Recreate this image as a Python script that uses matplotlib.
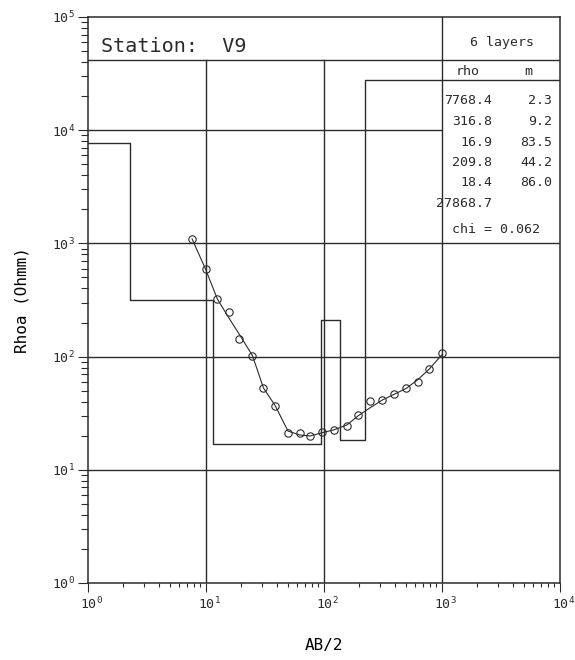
import numpy as np
import matplotlib.pyplot as plt
from matplotlib.patches import Rectangle
from matplotlib.transforms import ScaledTranslation

# layered model (rho in Ohm.m, thickness in m)
station = "V9"
rho = [7768.4, 316.8, 16.9, 209.8, 18.4, 27868.7]
thick = [2.3, 9.2, 83.5, 44.2, 86.0]
chi = 0.062

# measured apparent resistivity
ab2 = [7.7, 10, 12.6, 15.8, 19.3, 25, 31, 39, 50, 63, 77, 98, 122, 158,
       196, 247, 316, 396, 505, 632, 784, 1000]
rhoa = [1094, 594, 323, 246, 142, 102, 52.8, 36.8, 21.0, 21.3, 19.9, 21.7,
        22.5, 24.4, 30.5, 40.8, 41.4, 46.4, 52.5, 60.0, 77.2, 107]
# model response
rhoa_fit = [1094, 594, 323, 219, 158, 102, 52.8, 36.8, 22.0, 20.3, 19.9, 21.3,
            22.5, 24.9, 29.9, 35.2, 41.4, 46.4, 52.5, 62.8, 77.2, 103]

ink = "#2b2b2b"
plt.rcParams["font.family"] = ["DejaVu Sans Mono", "DejaVu Sans"]
plt.rcParams["mathtext.fontset"] = "custom"
plt.rcParams["mathtext.rm"] = "DejaVu Sans Mono"
plt.rcParams["mathtext.it"] = "DejaVu Sans Mono"
plt.rcParams["text.color"] = ink

fig = plt.figure(figsize=(5.75, 6.6), dpi=100)
ax = fig.add_axes([87.5 / 575, 1 - 583 / 660, 472 / 575, 566 / 660])
ax.set_xscale("log")
ax.set_yscale("log")
ax.set_xlim(1, 1e4)
ax.set_ylim(1, 1e5)

head = 0.924   # bottom of the title strip, axes fraction
tab_x = 0.75   # left edge of the results table

# grid
for v in [10, 100, 1000]:
    ax.axhline(v, color=ink, lw=1.0, zorder=1)
ax.axhline(1e4, xmax=tab_x, color=ink, lw=1.0, zorder=1)
ax.axvline(10, ymax=head, color=ink, lw=1.0, zorder=1)
ax.axvline(100, ymax=head, color=ink, lw=1.0, zorder=1)
ax.axvline(1000, color=ink, lw=1.0, zorder=3)
ax.axhline(10 ** (5 * head), color=ink, lw=1.0, zorder=3)

# blank table area
ax.add_patch(Rectangle((tab_x, 0.606), 1 - tab_x, head - 0.606, transform=ax.transAxes,
                       facecolor="white", edgecolor="none", zorder=2))

# model steps
depth = np.cumsum(thick)
xs = np.concatenate([[1], depth, [1e4]])
ys = rho + [rho[-1]]
ax.plot(xs, ys, drawstyle="steps-post", color=ink, lw=1.0, zorder=4)

# data and fit
ax.plot(ab2, rhoa_fit, color=ink, lw=0.8, zorder=5)
ax.plot(ab2, rhoa, "o", mfc="none", mec=ink, mew=0.8, ms=5.3, zorder=6)

# title strip and table
ax.text(0.029, 0.947, "Station:  " + station, transform=ax.transAxes,
        fontsize=14.5, va="center", ha="left")
ax.text(0.879, 0.955, f"{len(rho)} layers", transform=ax.transAxes,
        fontsize=9.5, va="center", ha="center")
ax.text(0.806, 0.903, "rho", transform=ax.transAxes, fontsize=9.5, va="center", ha="center")
ax.text(0.934, 0.903, "m", transform=ax.transAxes, fontsize=9.5, va="center", ha="center")
rows_y = [0.853, 0.816, 0.778, 0.743, 0.708, 0.671]
for i, r in enumerate(rho):
    ax.text(0.857, rows_y[i], f"{r:.1f}", transform=ax.transAxes,
            fontsize=9.5, va="center", ha="right", zorder=7)
    if i < len(thick):
        ax.text(0.984, rows_y[i], f"{thick[i]:.1f}", transform=ax.transAxes,
                fontsize=9.5, va="center", ha="right", zorder=7)
ax.text(0.865, 0.625, f"chi = {chi:.3f}", transform=ax.transAxes,
        fontsize=9.5, va="center", ha="center", zorder=7)

# axes and ticks
decades = [1, 10, 100, 1000, 10000]
ax.set_xticks(decades)
ax.set_xticklabels([r"$\mathregular{10^{%d}}$" % i for i in range(5)])
ax.set_yticks(decades + [1e5])
ax.set_yticklabels([r"$\mathregular{10^{%d}}$" % i for i in range(6)])
ax.xaxis.set_minor_locator(plt.LogLocator(base=10, subs=np.arange(2, 10), numticks=20))
ax.yaxis.set_minor_locator(plt.LogLocator(base=10, subs=np.arange(2, 10), numticks=20))
ax.xaxis.set_minor_formatter(plt.NullFormatter())
ax.yaxis.set_minor_formatter(plt.NullFormatter())
ax.tick_params(axis="x", which="major", direction="out", length=6.5, width=0.8,
               color=ink, labelsize=9.5, labelcolor=ink, pad=3)
ax.tick_params(axis="x", which="minor", direction="out", length=3, width=0.8, color=ink)
ax.tick_params(axis="y", which="major", direction="out", length=7, width=0.8,
               color=ink, labelsize=9.5, labelcolor=ink, pad=2)
ax.tick_params(axis="y", which="minor", direction="out", length=5, width=0.8, color=ink)
# nudge the x labels a little to the right of their ticks
shift = ScaledTranslation(4 / 100, 0, fig.dpi_scale_trans)
for lab in ax.get_xticklabels():
    lab.set_transform(lab.get_transform() + shift)
for s in ax.spines.values():
    s.set_color(ink)
    s.set_linewidth(1.1)
    s.set_zorder(8)

ax.set_xlabel("AB/2", fontsize=11.5, labelpad=18)
ax.set_ylabel("Rhoa (Ohmm)", fontsize=11.5, labelpad=16)

fig.savefig("out.png", dpi=100)
